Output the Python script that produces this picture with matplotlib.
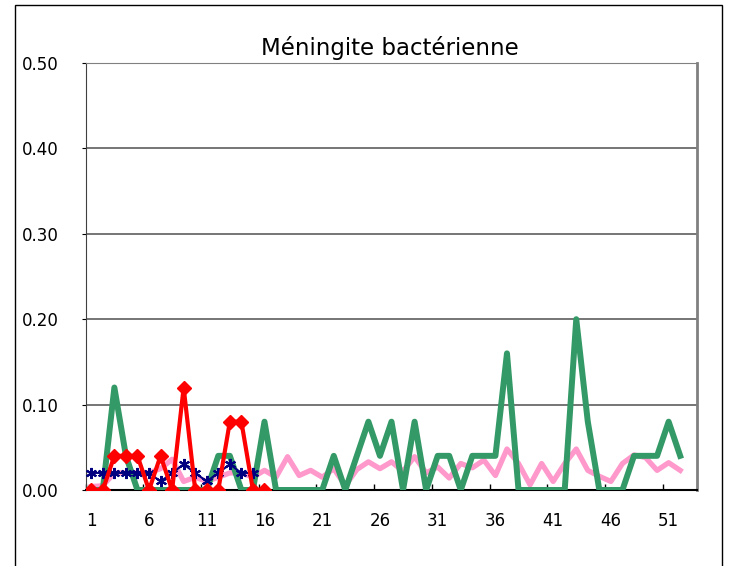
import matplotlib.pyplot as plt
from matplotlib.patches import Rectangle

#### D A T A ####

weeks = list(range(1, 53))
tick_pos = [1, 6, 11, 16, 21, 26, 31, 36, 41, 46, 51]
tick_labels = ['1', '6', '11', '16', '21', '26', '31', '36', '41', '46', '51']

# weeks 1..52
green = [0, 0, 0.12, 0.04, 0, 0, 0, 0, 0, 0,
         0, 0.04, 0.04, 0, 0, 0.08, 0, 0, 0, 0,
         0, 0.04, 0, 0.04, 0.08, 0.04, 0.08, 0, 0.08, 0,
         0.04, 0.04, 0, 0.04, 0.04, 0.04, 0.16, 0, 0, 0,
         0, 0, 0.20, 0.08, 0, 0, 0, 0.04, 0.04, 0.04,
         0.08, 0.04]

pink = [0.004, 0.005, 0.02, 0.02, 0.02, 0.02, 0.025, 0.036, 0.01, 0.015,
        0.01, 0.015, 0.02, 0.02, 0.015, 0.023, 0.015, 0.039, 0.017, 0.023,
        0.015, 0.025, 0.005, 0.024, 0.033, 0.025, 0.033, 0.022, 0.039, 0.02,
        0.027, 0.014, 0.031, 0.026, 0.035, 0.017, 0.048, 0.031, 0.006, 0.031,
        0.01, 0.031, 0.048, 0.023, 0.016, 0.01, 0.031, 0.041, 0.038, 0.023,
        0.032, 0.023]

# weeks 1..15
blue = [0.02, 0.02, 0.02, 0.02, 0.02, 0.02, 0.01, 0.02, 0.03, 0.02,
        0.01, 0.02, 0.03, 0.02, 0.02]

# weeks 1..16
red = [0, 0, 0.04, 0.04, 0.04, 0, 0.04, 0, 0.12, 0,
       0, 0, 0.08, 0.08, 0, 0]

#### P L O T ####

fig = plt.figure(figsize=(7.29, 5.66), dpi=100)
ax = fig.add_axes([85.5 / 729, 1 - 490 / 566, (697.5 - 85.5) / 729, (490 - 63) / 566])

ax.plot(weeks, pink, color='#FF99CC', lw=3.8, zorder=2)
ax.plot(weeks, green, color='#339966', lw=4.3, zorder=3)
ax.plot(weeks[:len(blue)], blue, color='#000080', lw=1.5,
        marker=(6, 2, 0), markersize=8, markeredgewidth=1.5, zorder=4)
ax.plot(weeks[:len(red)], red, color='#FF0000', lw=3,
        marker='D', markersize=7, zorder=5)

ax.set_xlim(0.5, 53.5)
ax.set_ylim(0, 0.5)

# labels centred on categories, tick marks between categories
ax.set_xticks(tick_pos, labels=tick_labels)
ax.tick_params(axis='x', which='major', length=0, pad=16, labelsize=12)
ax.set_xticks([p - 0.5 for p in tick_pos], minor=True)
ax.tick_params(axis='x', which='minor', direction='in', length=4, width=1, color='black')

yt = [0, 0.1, 0.2, 0.3, 0.4, 0.5]
ax.set_yticks(yt, labels=[f'{v:.2f}' for v in yt])
ax.tick_params(axis='y', direction='out', length=3, pad=16, labelsize=12)

ax.yaxis.grid(True, color='#505050', lw=1.1)
ax.set_axisbelow(True)

ax.spines['left'].set_color('#404040')
ax.spines['bottom'].set_color('black')
ax.spines['bottom'].set_linewidth(1.5)
ax.spines['top'].set_color('#808080')
ax.spines['right'].set_color('#808080')
ax.spines['right'].set_linewidth(2)

fig.text(390 / 729, 1 - 55 / 566, 'Méningite bactérienne', ha='center',
         va='baseline', fontsize=16.5)

# outer chart border (bottom edge is cut off)
border = Rectangle((15 / 729, -0.1), (722 - 15) / 729, 1 - 5 / 566 + 0.1,
                   transform=fig.transFigure, fill=False, ec='black', lw=1)
fig.patches.append(border)

fig.savefig('out.png', dpi=100)
